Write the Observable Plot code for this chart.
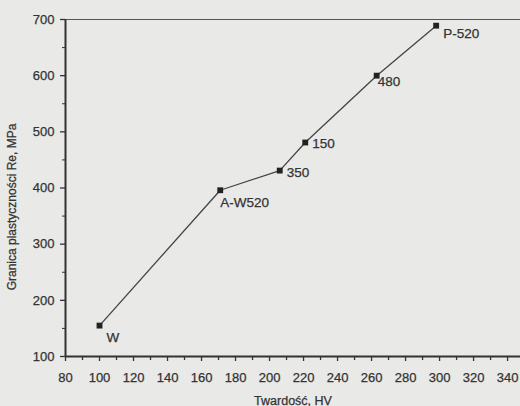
<!DOCTYPE html>
<html>
<head>
<meta charset="utf-8">
<script src="https://cdn.jsdelivr.net/npm/d3@7"></script>
<script src="https://cdn.jsdelivr.net/npm/@observablehq/plot@0.6"></script>
<style>
  html, body { margin: 0; padding: 0; background: #e9e9e7; }
  #chart svg { display: block; font-family: "Liberation Sans", Arial, sans-serif; }
  #chart svg text { stroke: #333; stroke-width: 0.25px; }
</style>
</head>
<body>
<div id="chart"></div>
<script>
// Material grades with their hardness and yield strength
const grades = ["W", "A-W520", "350", "150", "480", "P-520"];
const hardnessHV = [100, 171, 206, 221, 263, 298];
const yieldMPa = [155, 396, 431, 481, 600, 689];

// Axis ticks
const xTicks = [80, 100, 120, 140, 160, 180, 200, 220, 240, 260, 280, 300, 320, 340];
const xMinorTicks = [90, 110, 130, 150, 170, 190, 210, 230, 250, 270, 290, 310, 330];
const yTicks = [100, 200, 300, 400, 500, 600, 700];
const yMinorTicks = [150, 250, 350, 450, 550, 650];

const xTitle = "Twardość, HV";
const yTitle = "Granica plastyczności Re, MPa";

const rows = grades.map((g, i) => ({grade: g, hv: hardnessHV[i], re: yieldMPa[i]}));

// where each point's label sits relative to its marker
const labelOffset = {
  "W": [7, 12], "A-W520": [0, 12], "350": [7, 2],
  "150": [7, 1], "480": [1, 6], "P-520": [7, 8]
};

const ink = "#333";

const chart = Plot.plot({
  width: 520,
  height: 406,
  marginLeft: 65,
  marginRight: 0,
  marginTop: 19,
  marginBottom: 50,
  style: {background: "transparent", color: ink, fontSize: "13px", fontFamily: "Liberation Sans, Arial, sans-serif"},
  x: {domain: [80, 347.6]},
  y: {domain: [100, 700]},
  marks: [
    // frame edges
    Plot.ruleY([700], {stroke: "#555", strokeWidth: 1}),
    Plot.axisX({ticks: xMinorTicks, tickSize: 4, text: null, label: null, stroke: ink, strokeWidth: 1.3}),
    Plot.axisX({ticks: xTicks, tickSize: 5, tickPadding: 11, label: null, stroke: ink, strokeWidth: 1.3, fontSize: 13}),
    Plot.axisY({ticks: yMinorTicks, tickSize: 3, text: null, label: null, stroke: ink}),
    Plot.axisY({ticks: yTicks, tickSize: 5, tickPadding: 6, label: null, stroke: ink, strokeWidth: 1.3, fontSize: 13}),
    Plot.ruleX([80], {stroke: ink, strokeWidth: 2}),
    Plot.ruleY([100], {stroke: ink, strokeWidth: 2}),
    // axis titles
    Plot.text([xTitle], {frameAnchor: "bottom", dy: 48, fontSize: 12.5, fill: ink}),
    Plot.text([yTitle], {frameAnchor: "left", textAnchor: "middle", dx: -53, dy: 19, rotate: -90, fontSize: 12, fill: ink}),
    // data
    Plot.line(rows, {x: "hv", y: "re", stroke: "#444", strokeWidth: 1.3}),
    Plot.dot(rows, {x: "hv", y: "re", symbol: "square", r: 3.3, fill: "#222", stroke: null}),
    ...rows.map(d => Plot.text([d], {
      x: "hv", y: "re", text: "grade", textAnchor: "start",
      dx: labelOffset[d.grade][0], dy: labelOffset[d.grade][1],
      fontSize: 13.5, fill: ink
    }))
  ]
});

document.getElementById("chart").append(chart);
</script>
</body>
</html>
